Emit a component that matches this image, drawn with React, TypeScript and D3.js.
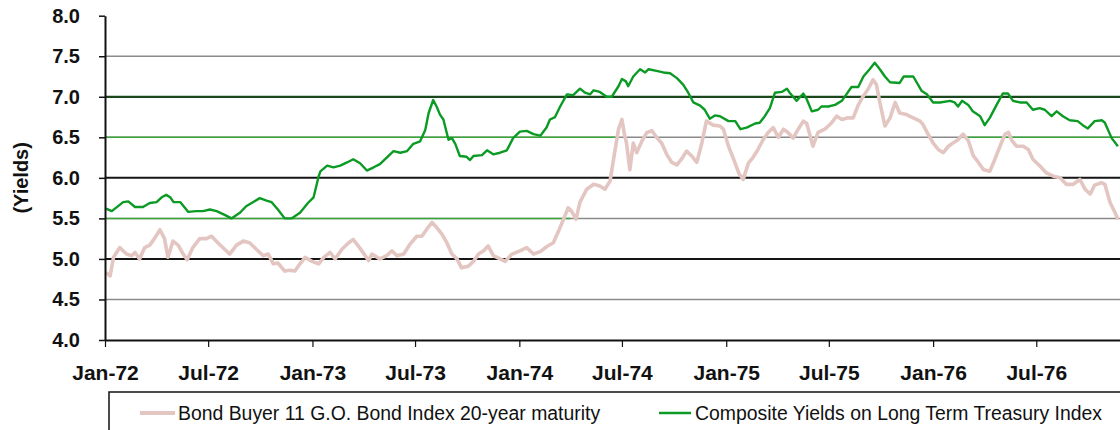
// @ts-nocheck
import * as d3 from "d3";
import { useEffect, useRef } from "react";

const width = 1120;
const height = 430;
const margin = { top: 15.7, right: -3, bottom: 90, left: 105 };

const bondName = "Bond Buyer 11 G.O. Bond Index 20-year maturity";
const treasuryName = "Composite Yields on Long Term Treasury Index";

const yTicks = [4.0, 4.5, 5.0, 5.5, 6.0, 6.5, 7.0, 7.5, 8.0];
const gridValues = [4.5, 5.0, 5.5, 6.0, 6.5, 7.0, 7.5];

// gridline segments that show up green in the picture
const greenGridSpans: [number, string, string][] = [
  [6.5, "1972-01-01", "1974-06-25"],
  [6.5, "1976-03-01", "1976-12-01"],
  [5.5, "1972-01-01", "1974-04-01"],
];

// Composite Yields on Long Term Treasury Index
const treasury: [string, number][] = [
  ["1972-01-03", 5.62], ["1972-01-13", 5.59], ["1972-02-02", 5.70], ["1972-02-11", 5.71],
  ["1972-02-23", 5.64], ["1972-03-08", 5.64], ["1972-03-20", 5.69], ["1972-04-01", 5.70],
  ["1972-04-10", 5.76], ["1972-04-18", 5.79], ["1972-04-25", 5.76], ["1972-05-01", 5.70],
  ["1972-05-13", 5.70], ["1972-05-27", 5.58], ["1972-06-10", 5.59], ["1972-06-22", 5.59],
  ["1972-07-04", 5.61], ["1972-07-16", 5.59], ["1972-07-31", 5.54], ["1972-08-11", 5.50],
  ["1972-08-26", 5.57], ["1972-09-06", 5.65], ["1972-09-18", 5.70], ["1972-09-30", 5.75],
  ["1972-10-12", 5.72], ["1972-10-21", 5.70], ["1972-11-01", 5.61], ["1972-11-13", 5.50],
  ["1972-11-25", 5.50], ["1972-12-10", 5.57], ["1972-12-24", 5.69],
  ["1973-01-03", 5.76], ["1973-01-12", 6.02], ["1973-01-15", 6.08], ["1973-01-27", 6.15],
  ["1973-02-07", 6.13], ["1973-02-19", 6.15], ["1973-03-03", 6.19], ["1973-03-14", 6.23],
  ["1973-03-26", 6.18], ["1973-04-07", 6.09], ["1973-04-19", 6.13], ["1973-04-30", 6.17],
  ["1973-05-12", 6.25], ["1973-05-24", 6.33], ["1973-06-05", 6.31], ["1973-06-17", 6.33],
  ["1973-06-28", 6.42], ["1973-07-10", 6.45], ["1973-07-19", 6.59], ["1973-07-25", 6.80],
  ["1973-08-02", 6.96], ["1973-08-08", 6.88], ["1973-08-14", 6.78], ["1973-08-20", 6.72],
  ["1973-08-29", 6.47], ["1973-09-04", 6.49], ["1973-09-10", 6.42], ["1973-09-18", 6.27],
  ["1973-09-30", 6.26], ["1973-10-06", 6.22], ["1973-10-12", 6.27], ["1973-10-27", 6.28],
  ["1973-11-05", 6.34], ["1973-11-16", 6.29], ["1973-11-28", 6.31], ["1973-12-10", 6.34],
  ["1973-12-21", 6.49],
  ["1974-01-02", 6.57], ["1974-01-14", 6.58], ["1974-01-26", 6.54], ["1974-02-07", 6.52],
  ["1974-02-18", 6.62], ["1974-02-24", 6.72], ["1974-03-05", 6.75], ["1974-03-14", 6.88],
  ["1974-03-26", 7.03], ["1974-04-06", 7.02], ["1974-04-18", 7.10], ["1974-04-27", 7.05],
  ["1974-05-06", 7.03], ["1974-05-12", 7.08], ["1974-05-23", 7.06], ["1974-06-04", 7.00],
  ["1974-06-13", 7.00], ["1974-06-25", 7.13], ["1974-07-01", 7.22], ["1974-07-08", 7.19],
  ["1974-07-12", 7.13], ["1974-07-21", 7.25], ["1974-08-02", 7.34], ["1974-08-11", 7.30],
  ["1974-08-17", 7.34], ["1974-08-31", 7.32], ["1974-09-12", 7.30], ["1974-09-24", 7.29],
  ["1974-10-06", 7.23], ["1974-10-17", 7.15], ["1974-10-26", 7.05], ["1974-11-04", 6.93],
  ["1974-11-16", 6.89], ["1974-11-24", 6.84], ["1974-12-03", 6.73], ["1974-12-12", 6.77],
  ["1974-12-21", 6.76],
  ["1975-01-05", 6.70], ["1975-01-17", 6.70], ["1975-01-26", 6.60], ["1975-02-06", 6.62],
  ["1975-02-21", 6.67], ["1975-03-01", 6.68], ["1975-03-10", 6.76], ["1975-03-19", 6.86],
  ["1975-03-28", 7.05], ["1975-04-09", 7.06], ["1975-04-18", 7.10], ["1975-04-23", 7.05],
  ["1975-05-05", 6.95], ["1975-05-17", 7.04], ["1975-05-23", 6.97], ["1975-06-01", 6.82],
  ["1975-06-12", 6.84], ["1975-06-18", 6.88], ["1975-06-30", 6.88], ["1975-07-12", 6.90],
  ["1975-07-24", 6.95], ["1975-08-01", 7.03], ["1975-08-10", 7.12], ["1975-08-22", 7.12],
  ["1975-08-31", 7.25], ["1975-09-11", 7.34], ["1975-09-20", 7.42], ["1975-09-29", 7.34],
  ["1975-10-08", 7.25], ["1975-10-17", 7.18], ["1975-11-03", 7.17], ["1975-11-10", 7.25],
  ["1975-11-27", 7.25], ["1975-12-12", 7.07], ["1975-12-21", 7.03],
  ["1976-01-01", 6.93], ["1976-01-13", 6.93], ["1976-01-31", 6.95], ["1976-02-08", 6.93],
  ["1976-02-14", 6.88], ["1976-02-21", 6.95], ["1976-03-03", 6.90], ["1976-03-11", 6.82],
  ["1976-03-24", 6.76], ["1976-04-01", 6.65], ["1976-04-10", 6.74], ["1976-04-22", 6.90],
  ["1976-05-03", 7.04], ["1976-05-12", 7.04], ["1976-05-21", 6.95], ["1976-06-02", 6.93],
  ["1976-06-14", 6.93], ["1976-06-25", 6.84], ["1976-07-07", 6.86], ["1976-07-16", 6.84],
  ["1976-07-28", 6.76], ["1976-08-06", 6.82], ["1976-08-17", 6.76], ["1976-08-29", 6.71],
  ["1976-09-12", 6.70], ["1976-09-21", 6.65], ["1976-09-30", 6.61], ["1976-10-12", 6.70],
  ["1976-10-25", 6.71], ["1976-10-30", 6.68], ["1976-11-11", 6.49], ["1976-11-22", 6.39],
];

// Bond Buyer 11 G.O. Bond Index, 20-year maturity
const bondBuyer: [string, number][] = [
  ["1972-01-03", 4.83], ["1972-01-10", 4.79], ["1972-01-16", 5.02], ["1972-01-27", 5.14],
  ["1972-02-08", 5.06], ["1972-02-17", 5.04], ["1972-02-23", 5.08], ["1972-03-02", 5.00],
  ["1972-03-11", 5.14], ["1972-03-20", 5.17], ["1972-03-29", 5.26], ["1972-04-07", 5.36],
  ["1972-04-15", 5.25], ["1972-04-21", 5.02], ["1972-04-30", 5.22], ["1972-05-09", 5.17],
  ["1972-05-18", 5.06], ["1972-05-25", 4.99], ["1972-06-04", 5.14], ["1972-06-16", 5.25],
  ["1972-06-28", 5.25], ["1972-07-07", 5.28], ["1972-07-18", 5.20], ["1972-07-30", 5.12],
  ["1972-08-08", 5.06], ["1972-08-20", 5.17], ["1972-09-01", 5.22], ["1972-09-12", 5.20],
  ["1972-09-24", 5.12], ["1972-10-06", 5.04], ["1972-10-15", 5.06], ["1972-10-24", 4.94],
  ["1972-11-01", 4.95], ["1972-11-13", 4.85], ["1972-11-22", 4.86], ["1972-12-01", 4.85],
  ["1972-12-10", 4.94], ["1972-12-19", 5.02], ["1972-12-31", 4.97],
  ["1973-01-12", 4.94], ["1973-01-21", 5.02], ["1973-02-01", 5.08], ["1973-02-10", 5.00],
  ["1973-02-22", 5.12], ["1973-03-06", 5.20], ["1973-03-14", 5.24], ["1973-03-26", 5.13],
  ["1973-04-10", 4.98], ["1973-04-16", 5.06], ["1973-04-30", 5.00], ["1973-05-12", 5.04],
  ["1973-05-21", 5.10], ["1973-05-30", 5.04], ["1973-06-11", 5.06], ["1973-06-22", 5.18],
  ["1973-07-04", 5.28], ["1973-07-13", 5.28], ["1973-07-22", 5.37], ["1973-07-31", 5.45],
  ["1973-08-08", 5.39], ["1973-08-17", 5.31], ["1973-08-26", 5.20], ["1973-09-04", 5.06],
  ["1973-09-13", 5.00], ["1973-09-21", 4.89], ["1973-10-03", 4.91], ["1973-10-12", 4.97],
  ["1973-10-21", 5.06], ["1973-10-30", 5.10], ["1973-11-07", 5.16], ["1973-11-16", 5.04],
  ["1973-11-28", 5.00], ["1973-12-07", 4.97], ["1973-12-19", 5.06],
  ["1974-01-02", 5.10], ["1974-01-14", 5.14], ["1974-01-26", 5.06], ["1974-02-07", 5.09],
  ["1974-02-18", 5.15], ["1974-03-02", 5.20], ["1974-03-11", 5.34], ["1974-03-20", 5.49],
  ["1974-03-28", 5.63], ["1974-04-03", 5.59], ["1974-04-11", 5.49], ["1974-04-18", 5.70],
  ["1974-04-30", 5.86], ["1974-05-12", 5.92], ["1974-05-23", 5.90], ["1974-06-01", 5.86],
  ["1974-06-10", 5.96], ["1974-06-19", 6.35], ["1974-06-25", 6.60], ["1974-07-01", 6.72],
  ["1974-07-05", 6.55], ["1974-07-09", 6.43], ["1974-07-15", 6.10], ["1974-07-21", 6.43],
  ["1974-07-27", 6.31], ["1974-08-05", 6.45], ["1974-08-14", 6.56], ["1974-08-23", 6.58],
  ["1974-08-31", 6.50], ["1974-09-09", 6.43], ["1974-09-18", 6.29], ["1974-09-27", 6.19],
  ["1974-10-06", 6.16], ["1974-10-14", 6.23], ["1974-10-23", 6.33], ["1974-11-01", 6.27],
  ["1974-11-10", 6.19], ["1974-11-19", 6.43], ["1974-11-27", 6.70], ["1974-12-09", 6.65],
  ["1974-12-21", 6.64], ["1974-12-27", 6.60],
  ["1975-01-05", 6.39], ["1975-01-14", 6.23], ["1975-01-23", 6.06], ["1975-01-31", 5.98],
  ["1975-02-09", 6.18], ["1975-02-18", 6.26], ["1975-02-26", 6.35], ["1975-03-07", 6.47],
  ["1975-03-16", 6.56], ["1975-03-25", 6.62], ["1975-04-03", 6.50], ["1975-04-12", 6.60],
  ["1975-04-20", 6.56], ["1975-04-29", 6.49], ["1975-05-08", 6.60], ["1975-05-17", 6.70],
  ["1975-05-23", 6.67], ["1975-05-29", 6.52], ["1975-06-03", 6.39], ["1975-06-12", 6.56],
  ["1975-06-24", 6.60], ["1975-07-06", 6.68], ["1975-07-15", 6.76], ["1975-07-24", 6.72],
  ["1975-08-04", 6.74], ["1975-08-13", 6.74], ["1975-08-22", 6.90], ["1975-08-31", 7.01],
  ["1975-09-08", 7.09], ["1975-09-17", 7.21], ["1975-09-23", 7.15], ["1975-09-29", 6.93],
  ["1975-10-08", 6.64], ["1975-10-17", 6.74], ["1975-10-26", 6.93], ["1975-11-03", 6.80],
  ["1975-11-15", 6.78], ["1975-11-27", 6.74], ["1975-12-09", 6.70], ["1975-12-14", 6.66],
  ["1975-12-23", 6.54],
  ["1976-01-01", 6.43], ["1976-01-10", 6.35], ["1976-01-19", 6.31], ["1976-01-28", 6.39],
  ["1976-02-05", 6.43], ["1976-02-14", 6.47], ["1976-02-23", 6.54], ["1976-03-03", 6.46],
  ["1976-03-12", 6.27], ["1976-03-21", 6.19], ["1976-03-30", 6.10], ["1976-04-10", 6.08],
  ["1976-04-19", 6.23], ["1976-04-28", 6.39], ["1976-05-07", 6.54], ["1976-05-13", 6.56],
  ["1976-05-19", 6.46], ["1976-05-27", 6.39], ["1976-06-08", 6.39], ["1976-06-17", 6.35],
  ["1976-06-25", 6.23], ["1976-07-07", 6.15], ["1976-07-19", 6.06], ["1976-07-31", 6.02],
  ["1976-08-12", 6.00], ["1976-08-23", 5.92], ["1976-09-04", 5.92], ["1976-09-16", 5.98],
  ["1976-09-25", 5.86], ["1976-10-04", 5.80], ["1976-10-12", 5.91], ["1976-10-24", 5.94],
  ["1976-10-30", 5.92], ["1976-11-08", 5.70], ["1976-11-17", 5.57], ["1976-11-22", 5.49],
];

const parse = d3.timeParse("%Y-%m-%d");
const font = "'Liberation Sans', Arial, sans-serif";

const pink = "#e3c6c1";
const green = "#0b9a24";

function gridStyle(v: number) {
  if (v === 7.0) return { stroke: "#1c461c", width: 2.2 };
  if (v === 6.0 || v === 5.0) return { stroke: "#151515", width: 2 };
  return { stroke: "#8a8a8a", width: 1.5 };
}

export default function App() {
  const gx = useRef<SVGGElement>(null);
  const gy = useRef<SVGGElement>(null);

  const x = d3
    .scaleTime()
    .domain([parse("1972-01-01"), parse("1976-12-01")])
    .range([margin.left, width - margin.right]);
  const y = d3.scaleLinear().domain([4, 8]).range([height - margin.bottom, margin.top]);

  const line = d3
    .line<[string, number]>()
    .x((d) => x(parse(d[0])))
    .y((d) => y(d[1]));

  useEffect(() => {
    const ax = d3
      .axisBottom(x)
      .ticks(d3.timeMonth.every(6))
      .tickFormat(d3.timeFormat("%b-%y"))
      .tickSize(7)
      .tickSizeOuter(0)
      .tickPadding(18);
    const sx = d3.select(gx.current).call(ax);
    sx.select(".domain").attr("stroke", "#111").attr("stroke-width", 2);
    sx.selectAll(".tick line").attr("stroke", "#111").attr("stroke-width", 1.2);
    sx.selectAll(".tick text")
      .attr("fill", "#111")
      .style("font-family", font)
      .style("font-size", "21px")
      .style("font-weight", "bold");

    const ay = d3
      .axisLeft(y)
      .tickValues(yTicks)
      .tickFormat(d3.format(".1f"))
      .tickSize(6)
      .tickSizeOuter(0)
      .tickPadding(19);
    const sy = d3.select(gy.current).call(ay);
    sy.select(".domain").attr("stroke", "#111").attr("stroke-width", 2);
    sy.selectAll(".tick line").attr("stroke", "#111").attr("stroke-width", 1.5);
    sy.selectAll(".tick text")
      .attr("fill", "#111")
      .style("font-family", font)
      .style("font-size", "20px")
      .style("font-weight", "bold");
  }, []);

  return (
    <div style={{ position: "absolute", left: 0, top: 0 }}>
      <svg width={width} height={height} style={{ display: "block", background: "#fff" }}>
        {gridValues.map((v) => {
          const s = gridStyle(v);
          return (
            <line
              key={"g" + v}
              x1={margin.left}
              x2={width - margin.right}
              y1={y(v)}
              y2={y(v)}
              stroke={s.stroke}
              strokeWidth={s.width}
            />
          );
        })}
        {greenGridSpans.map(([v, a, b], i) => (
          <line
            key={"s" + i}
            x1={x(parse(a))}
            x2={x(parse(b))}
            y1={y(v)}
            y2={y(v)}
            stroke="#3aa53a"
            strokeWidth={1.5}
          />
        ))}
        <path d={line(bondBuyer)} fill="none" stroke={pink} strokeWidth={3.6} strokeLinejoin="round" />
        <path d={line(treasury)} fill="none" stroke={green} strokeWidth={2.4} strokeLinejoin="round" />
        <g ref={gx} transform={`translate(0,${height - margin.bottom})`} />
        <g ref={gy} transform={`translate(${margin.left},0)`} />
        <text
          transform={`translate(28,${(y(4) + y(8)) / 2}) rotate(-90)`}
          textAnchor="middle"
          fontFamily={font}
          fontSize={20}
          fontWeight="bold"
          fill="#111"
        >
          (Yields)
        </text>

        <rect x={109} y={392} width={1040} height={80} fill="#fff" stroke="#111" strokeWidth={1.5} />
        <line x1={140} x2={175} y1={413} y2={413} stroke={pink} strokeWidth={4} />
        <text x={178} y={420} fontFamily={font} fontSize={19.4} fill="#111">
          {bondName}
        </text>
        <line x1={659} x2={691} y1={413} y2={413} stroke={green} strokeWidth={2.5} />
        <text x={695} y={420} fontFamily={font} fontSize={19.4} fill="#111">
          {treasuryName}
        </text>
      </svg>
    </div>
  );
}
